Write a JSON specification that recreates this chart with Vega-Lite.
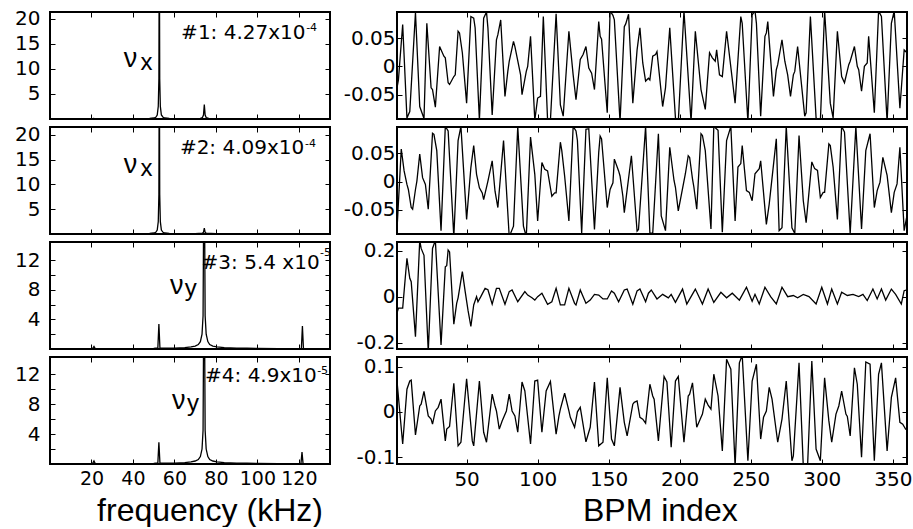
{
"$schema":"https://vega.github.io/schema/vega-lite/v6.json",
"padding":{"left":13,"top":7,"right":0,"bottom":0},
"columns":2,
"spacing":{"row":8,"column":67},
"bounds":"flush",
"config":{"view":{"stroke":"black","strokeWidth":2},"axis":{"domain":false,"grid":false,"tickSize":5,"tickColor":"black","tickWidth":1,"labelFont":"DejaVu Sans","labelFontSize":20,"labelColor":"black","labelOverlap":false,"labelFlush":false,"labelBound":false,"labelPadding":5,"titleFont":"Liberation Sans","titleFontSize":32,"titleFontWeight":"normal","titleColor":"black"}},
"datasets":{
"f1":[{"f":0,"a":0.03},{"f":10,"a":0.03},{"f":20,"a":0.04},{"f":21,"a":0.1},{"f":22,"a":0.04},{"f":30,"a":0.04},{"f":40,"a":0.06},{"f":45,"a":0.08},{"f":48,"a":0.12},{"f":50,"a":0.2},{"f":51,"a":0.35},{"f":51.7,"a":0.8},{"f":52.2,"a":2.5},{"f":52.5,"a":8},{"f":52.7,"a":40},{"f":52.9,"a":8},{"f":53.2,"a":2.5},{"f":53.7,"a":0.8},{"f":54.5,"a":0.35},{"f":55.5,"a":0.2},{"f":57.5,"a":0.12},{"f":60,"a":0.08},{"f":65,"a":0.06},{"f":70,"a":0.08},{"f":72.5,"a":0.12},{"f":73.5,"a":0.3},{"f":74,"a":0.8},{"f":74.4,"a":2.9},{"f":74.8,"a":0.8},{"f":75.3,"a":0.3},{"f":76.5,"a":0.12},{"f":80,"a":0.06},{"f":90,"a":0.04},{"f":100,"a":0.03},{"f":120,"a":0.03},{"f":135,"a":0.02}],
"f2":[{"f":0,"a":0.03},{"f":10,"a":0.03},{"f":20,"a":0.04},{"f":30,"a":0.04},{"f":40,"a":0.06},{"f":45,"a":0.08},{"f":48,"a":0.12},{"f":50,"a":0.2},{"f":51,"a":0.35},{"f":51.7,"a":0.8},{"f":52.2,"a":2.5},{"f":52.5,"a":8},{"f":52.7,"a":40},{"f":52.9,"a":8},{"f":53.2,"a":2.5},{"f":53.7,"a":0.8},{"f":54.5,"a":0.35},{"f":55.5,"a":0.2},{"f":57.5,"a":0.12},{"f":60,"a":0.08},{"f":65,"a":0.06},{"f":70,"a":0.06},{"f":73.5,"a":0.15},{"f":74,"a":0.35},{"f":74.4,"a":1.2},{"f":74.8,"a":0.35},{"f":75.3,"a":0.15},{"f":80,"a":0.05},{"f":90,"a":0.04},{"f":100,"a":0.03},{"f":120,"a":0.03},{"f":135,"a":0.02}],
"f3":[{"f":0,"a":0.02},{"f":15,"a":0.03},{"f":20.5,"a":0.05},{"f":21.2,"a":0.35},{"f":21.8,"a":0.05},{"f":30,"a":0.05},{"f":40,"a":0.06},{"f":50,"a":0.08},{"f":52,"a":0.15},{"f":52.5,"a":3.4},{"f":53,"a":0.15},{"f":55,"a":0.1},{"f":60,"a":0.12},{"f":65,"a":0.18},{"f":68,"a":0.28},{"f":70,"a":0.4},{"f":71.5,"a":0.6},{"f":72.5,"a":1.0},{"f":73.3,"a":2.0},{"f":73.8,"a":4.5},{"f":74.3,"a":30},{"f":74.8,"a":4.5},{"f":75.3,"a":2.0},{"f":76.1,"a":1.0},{"f":77,"a":0.6},{"f":78.5,"a":0.4},{"f":80.5,"a":0.28},{"f":84,"a":0.18},{"f":90,"a":0.12},{"f":95,"a":0.1},{"f":100,"a":0.08},{"f":110,"a":0.06},{"f":121.2,"a":0.08},{"f":121.7,"a":3.1},{"f":122.2,"a":0.08},{"f":125,"a":0.05},{"f":135,"a":0.04}],
"f4":[{"f":0,"a":0.02},{"f":15,"a":0.03},{"f":20.5,"a":0.05},{"f":21.2,"a":0.4},{"f":21.8,"a":0.05},{"f":30,"a":0.05},{"f":40,"a":0.06},{"f":50,"a":0.08},{"f":52,"a":0.15},{"f":52.5,"a":2.9},{"f":53,"a":0.15},{"f":55,"a":0.1},{"f":60,"a":0.12},{"f":65,"a":0.18},{"f":68,"a":0.28},{"f":70,"a":0.4},{"f":71.5,"a":0.6},{"f":72.5,"a":1.0},{"f":73.3,"a":2.0},{"f":73.8,"a":4.5},{"f":74.3,"a":30},{"f":74.8,"a":4.5},{"f":75.3,"a":2.0},{"f":76.1,"a":1.0},{"f":77,"a":0.6},{"f":78.5,"a":0.4},{"f":80.5,"a":0.28},{"f":84,"a":0.18},{"f":90,"a":0.12},{"f":95,"a":0.1},{"f":100,"a":0.08},{"f":110,"a":0.06},{"f":121,"a":0.08},{"f":121.5,"a":1.6},{"f":122,"a":0.08},{"f":125,"a":0.05},{"f":135,"a":0.04}],
"t1":[{"i":1,"v":-0.038},{"i":2,"v":-0.024},{"i":5,"v":0.074},{"i":8,"v":-0.091},{"i":10,"v":-0.08},{"i":14,"v":0.095},{"i":17,"v":-0.071},{"i":20,"v":-0.092},{"i":22,"v":0.076},{"i":25,"v":-0.038},{"i":26,"v":-0.041},{"i":28,"v":-0.072},{"i":31,"v":0.035},{"i":34,"v":0.018},{"i":35,"v":0.015},{"i":37,"v":-0.029},{"i":38,"v":-0.032},{"i":41,"v":-0.018},{"i":42,"v":-0.015},{"i":44,"v":0.062},{"i":45,"v":0.059},{"i":47,"v":0.024},{"i":50,"v":-0.065},{"i":53,"v":0.088},{"i":55,"v":0.085},{"i":56,"v":0.068},{"i":59,"v":-0.095},{"i":62,"v":0.085},{"i":64,"v":0.096},{"i":65,"v":0.068},{"i":68,"v":-0.086},{"i":71,"v":0.047},{"i":72,"v":0.056},{"i":74,"v":0.082},{"i":77,"v":-0.053},{"i":79,"v":-0.009},{"i":80,"v":0.009},{"i":83,"v":0.044},{"i":84,"v":0.035},{"i":88,"v":-0.015},{"i":89,"v":-0.05},{"i":92,"v":-0.009},{"i":93,"v":0},{"i":95,"v":0.053},{"i":98,"v":-0.095},{"i":100,"v":-0.056},{"i":102,"v":-0.053},{"i":104,"v":0.088},{"i":107,"v":-0.095},{"i":109,"v":-0.095},{"i":113,"v":0.093},{"i":116,"v":-0.068},{"i":118,"v":-0.088},{"i":122,"v":0.062},{"i":125,"v":-0.015},{"i":127,"v":-0.059},{"i":130,"v":0.012},{"i":132,"v":0.021},{"i":134,"v":0.035},{"i":136,"v":-0.003},{"i":138,"v":-0.012},{"i":140,"v":-0.041},{"i":143,"v":0.079},{"i":144,"v":0.053},{"i":145,"v":0.048},{"i":149,"v":-0.082},{"i":151,"v":0.098},{"i":153,"v":0.09},{"i":154,"v":0.082},{"i":158,"v":-0.098},{"i":161,"v":0.07},{"i":162,"v":0.075},{"i":164,"v":0.092},{"i":167,"v":-0.065},{"i":170,"v":0.029},{"i":172,"v":0.068},{"i":174,"v":0.006},{"i":176,"v":-0.026},{"i":178,"v":-0.021},{"i":179,"v":-0.024},{"i":181,"v":0.018},{"i":183,"v":0.021},{"i":184,"v":0.026},{"i":188,"v":-0.071},{"i":190,"v":-0.038},{"i":193,"v":0.068},{"i":197,"v":-0.091},{"i":199,"v":-0.098},{"i":203,"v":0.098},{"i":208,"v":-0.098},{"i":211,"v":0.062},{"i":215,"v":-0.041},{"i":218,"v":-0.076},{"i":221,"v":0.024},{"i":223,"v":0.015},{"i":225,"v":0.009},{"i":226,"v":0.029},{"i":228,"v":-0.015},{"i":230,"v":-0.018},{"i":233,"v":0.062},{"i":239,"v":-0.065},{"i":243,"v":0.088},{"i":244,"v":0.076},{"i":248,"v":-0.098},{"i":251,"v":0.091},{"i":253,"v":0.098},{"i":254,"v":0.076},{"i":257,"v":-0.088},{"i":260,"v":0.053},{"i":261,"v":0.059},{"i":262,"v":0.079},{"i":266,"v":-0.053},{"i":268,"v":-0.006},{"i":269,"v":0.003},{"i":272,"v":0.047},{"i":274,"v":0.009},{"i":276,"v":-0.015},{"i":278,"v":-0.053},{"i":280,"v":-0.015},{"i":281,"v":-0.009},{"i":283,"v":0.035},{"i":288,"v":-0.088},{"i":289,"v":-0.082},{"i":292,"v":0.088},{"i":296,"v":-0.091},{"i":299,"v":-0.098},{"i":302,"v":0.098},{"i":306,"v":-0.065},{"i":308,"v":-0.091},{"i":311,"v":0.062},{"i":314,"v":-0.018},{"i":316,"v":-0.029},{"i":319,"v":0.003},{"i":320,"v":0.009},{"i":323,"v":0.035},{"i":325,"v":0},{"i":326,"v":-0.006},{"i":328,"v":-0.044},{"i":330,"v":0},{"i":332,"v":0.006},{"i":333,"v":0.053},{"i":337,"v":-0.082},{"i":340,"v":0.098},{"i":342,"v":0.088},{"i":346,"v":-0.098},{"i":349,"v":0.076},{"i":351,"v":0.098},{"i":355,"v":-0.074},{"i":358,"v":0.029},{"i":360,"v":0.024}],
"t2":[{"i":1,"v":-0.085},{"i":4,"v":0.058},{"i":6,"v":0.019},{"i":8,"v":-0.005},{"i":9,"v":-0.014},{"i":11,"v":-0.046},{"i":12,"v":-0.049},{"i":14,"v":-0.014},{"i":15,"v":0.001},{"i":17,"v":0.049},{"i":19,"v":0.007},{"i":21,"v":-0.005},{"i":23,"v":-0.049},{"i":26,"v":0.086},{"i":27,"v":0.084},{"i":29,"v":0.055},{"i":32,"v":-0.087},{"i":35,"v":0.098},{"i":37,"v":0.09},{"i":41,"v":-0.098},{"i":44,"v":0.073},{"i":46,"v":0.098},{"i":50,"v":-0.067},{"i":53,"v":0.025},{"i":55,"v":0.064},{"i":57,"v":0.013},{"i":59,"v":-0.011},{"i":61,"v":-0.02},{"i":62,"v":-0.032},{"i":65,"v":0.001},{"i":68,"v":0.037},{"i":70,"v":-0.017},{"i":72,"v":-0.046},{"i":76,"v":0.073},{"i":80,"v":-0.098},{"i":83,"v":-0.079},{"i":86,"v":0.098},{"i":90,"v":-0.079},{"i":92,"v":-0.098},{"i":95,"v":0.079},{"i":98,"v":0.013},{"i":100,"v":-0.07},{"i":103,"v":0.034},{"i":105,"v":0.022},{"i":107,"v":0.019},{"i":110,"v":-0.026},{"i":112,"v":-0.02},{"i":113,"v":-0.02},{"i":116,"v":0.07},{"i":117,"v":0.055},{"i":119,"v":0.01},{"i":122,"v":-0.07},{"i":125,"v":0.098},{"i":127,"v":0.09},{"i":128,"v":0.073},{"i":131,"v":-0.091},{"i":134,"v":0.093},{"i":136,"v":0.094},{"i":140,"v":-0.085},{"i":143,"v":0.052},{"i":144,"v":0.081},{"i":145,"v":0.076},{"i":149,"v":-0.046},{"i":151,"v":-0.014},{"i":153,"v":-0.002},{"i":154,"v":0.04},{"i":157,"v":0.019},{"i":158,"v":0.01},{"i":160,"v":-0.026},{"i":161,"v":-0.055},{"i":166,"v":0.046},{"i":170,"v":-0.088},{"i":171,"v":-0.085},{"i":176,"v":0.098},{"i":179,"v":-0.091},{"i":181,"v":-0.092},{"i":185,"v":0.085},{"i":187,"v":-0.061},{"i":190,"v":-0.087},{"i":193,"v":0.061},{"i":196,"v":0.002},{"i":197,"v":-0.01},{"i":199,"v":-0.052},{"i":204,"v":0.014},{"i":206,"v":0.046},{"i":207,"v":0.043},{"i":209,"v":0.005},{"i":210,"v":-0.01},{"i":212,"v":-0.049},{"i":215,"v":0.085},{"i":216,"v":0.082},{"i":218,"v":0.055},{"i":222,"v":-0.084},{"i":224,"v":0.098},{"i":227,"v":0.091},{"i":230,"v":-0.09},{"i":233,"v":0.073},{"i":236,"v":0.098},{"i":239,"v":-0.07},{"i":241,"v":0.026},{"i":243,"v":0.032},{"i":244,"v":0.064},{"i":247,"v":-0.016},{"i":249,"v":-0.019},{"i":251,"v":-0.034},{"i":253,"v":0.014},{"i":256,"v":0.023},{"i":257,"v":0.037},{"i":261,"v":-0.076},{"i":263,"v":-0.04},{"i":268,"v":0.076},{"i":270,"v":-0.087},{"i":272,"v":-0.082},{"i":275,"v":0.098},{"i":279,"v":-0.082},{"i":281,"v":-0.092},{"i":284,"v":0.082},{"i":287,"v":-0.034},{"i":289,"v":-0.073},{"i":293,"v":0.035},{"i":295,"v":0.023},{"i":297,"v":0.02},{"i":299,"v":-0.028},{"i":301,"v":-0.019},{"i":302,"v":-0.019},{"i":305,"v":0.067},{"i":306,"v":0.064},{"i":308,"v":0.026},{"i":311,"v":-0.067},{"i":314,"v":0.098},{"i":316,"v":0.088},{"i":320,"v":-0.092},{"i":324,"v":0.098},{"i":328,"v":-0.084},{"i":331,"v":0.055},{"i":334,"v":0.085},{"i":337,"v":-0.046},{"i":339,"v":-0.016},{"i":341,"v":-0.001},{"i":343,"v":0.043},{"i":346,"v":0.011},{"i":349,"v":-0.055},{"i":351,"v":-0.019},{"i":353,"v":-0.004},{"i":355,"v":0.061},{"i":358,"v":-0.087},{"i":360,"v":-0.06}],
"t3":[{"i":1,"v":-0.072},{"i":2,"v":-0.05},{"i":5,"v":-0.05},{"i":8,"v":0.167},{"i":10,"v":0.08},{"i":11,"v":0.065},{"i":14,"v":-0.174},{"i":17,"v":0.245},{"i":18,"v":0.21},{"i":20,"v":0.18},{"i":23,"v":-0.24},{"i":26,"v":0.21},{"i":28,"v":0.245},{"i":32,"v":-0.21},{"i":35,"v":0.13},{"i":36,"v":0.135},{"i":37,"v":0.203},{"i":38,"v":0.195},{"i":41,"v":-0.12},{"i":43,"v":-0.029},{"i":44,"v":-0.005},{"i":47,"v":0.109},{"i":49,"v":0.022},{"i":51,"v":-0.06},{"i":53,"v":-0.13},{"i":55,"v":-0.036},{"i":57,"v":0},{"i":58,"v":-0.022},{"i":60,"v":0.0},{"i":63,"v":0.036},{"i":65,"v":0.03},{"i":68,"v":-0.033},{"i":71,"v":0.036},{"i":73,"v":0.036},{"i":77,"v":-0.033},{"i":80,"v":0.022},{"i":82,"v":0.029},{"i":86,"v":-0.022},{"i":91,"v":0.022},{"i":93,"v":0.007},{"i":96,"v":-0.005},{"i":98,"v":-0.015},{"i":100,"v":0},{"i":103,"v":0.015},{"i":107,"v":-0.033},{"i":110,"v":-0.022},{"i":113,"v":0.036},{"i":116,"v":-0.036},{"i":119,"v":-0.036},{"i":122,"v":0.036},{"i":126,"v":-0.029},{"i":127,"v":-0.036},{"i":130,"v":0.029},{"i":134,"v":-0.029},{"i":137,"v":-0.015},{"i":140,"v":0.01},{"i":143,"v":0.007},{"i":146,"v":-0.01},{"i":149,"v":-0.01},{"i":152,"v":0.025},{"i":154,"v":0.015},{"i":157,"v":-0.022},{"i":161,"v":0.029},{"i":163,"v":0.033},{"i":167,"v":-0.033},{"i":170,"v":0.025},{"i":172,"v":0.033},{"i":176,"v":-0.022},{"i":178,"v":0.015},{"i":180,"v":0.029},{"i":184,"v":-0.01},{"i":188,"v":0.01},{"i":192,"v":-0.005},{"i":194,"v":0.01},{"i":197,"v":-0.025},{"i":202,"v":0.033},{"i":205,"v":-0.032},{"i":208,"v":0.0},{"i":211,"v":0.033},{"i":216,"v":-0.032},{"i":220,"v":0.033},{"i":224,"v":-0.025},{"i":229,"v":0.019},{"i":233,"v":-0.005},{"i":237,"v":0.015},{"i":242,"v":-0.015},{"i":247,"v":0.041},{"i":251,"v":-0.02},{"i":253,"v":0.01},{"i":256,"v":-0.032},{"i":260,"v":0.041},{"i":264,"v":0.0},{"i":268,"v":-0.032},{"i":272,"v":0.041},{"i":276,"v":0.0},{"i":280,"v":0.005},{"i":283,"v":-0.005},{"i":287,"v":0.01},{"i":291,"v":0.0},{"i":296,"v":-0.032},{"i":300,"v":0.041},{"i":304,"v":-0.032},{"i":307,"v":0.033},{"i":311,"v":-0.032},{"i":314,"v":0.019},{"i":318,"v":0.005},{"i":322,"v":0.01},{"i":326,"v":0.0},{"i":329,"v":0.01},{"i":332,"v":-0.017},{"i":336,"v":0.033},{"i":339,"v":-0.01},{"i":342,"v":0.033},{"i":345,"v":-0.015},{"i":349,"v":0.033},{"i":352,"v":0.01},{"i":356,"v":-0.032},{"i":358,"v":0.026},{"i":360,"v":0.03}],
"t4":[{"i":1,"v":0.068},{"i":5,"v":-0.071},{"i":8,"v":0.05},{"i":10,"v":0.068},{"i":11,"v":0.07},{"i":14,"v":-0.051},{"i":17,"v":0.013},{"i":18,"v":0.017},{"i":20,"v":0.045},{"i":23,"v":-0.009},{"i":25,"v":-0.016},{"i":26,"v":-0.027},{"i":28,"v":0.002},{"i":30,"v":0.01},{"i":32,"v":0.028},{"i":35,"v":-0.064},{"i":36,"v":-0.038},{"i":38,"v":-0.032},{"i":41,"v":0.063},{"i":44,"v":-0.075},{"i":46,"v":-0.067},{"i":50,"v":0.073},{"i":54,"v":-0.064},{"i":55,"v":-0.075},{"i":59,"v":0.068},{"i":62,"v":-0.045},{"i":64,"v":-0.067},{"i":68,"v":0.039},{"i":70,"v":0.013},{"i":71,"v":0.002},{"i":73,"v":-0.038},{"i":75,"v":-0.02},{"i":78,"v":0.002},{"i":80,"v":0.039},{"i":82,"v":0.002},{"i":84,"v":-0.009},{"i":86,"v":-0.045},{"i":89,"v":0.066},{"i":91,"v":0.046},{"i":95,"v":-0.071},{"i":98,"v":0.068},{"i":100,"v":0.07},{"i":103,"v":-0.045},{"i":106,"v":0.046},{"i":109,"v":0.067},{"i":113,"v":-0.049},{"i":115,"v":-0.009},{"i":116,"v":0.006},{"i":119,"v":0.041},{"i":122,"v":0.002},{"i":123,"v":-0.012},{"i":126,"v":-0.034},{"i":128,"v":0},{"i":130,"v":0.01},{"i":134,"v":-0.066},{"i":137,"v":-0.034},{"i":140,"v":0.066},{"i":143,"v":-0.075},{"i":146,"v":-0.067},{"i":149,"v":0.075},{"i":152,"v":-0.06},{"i":154,"v":-0.075},{"i":158,"v":0.054},{"i":161,"v":-0.023},{"i":163,"v":-0.053},{"i":167,"v":0.017},{"i":168,"v":0.021},{"i":170,"v":0.024},{"i":172,"v":-0.012},{"i":174,"v":-0.016},{"i":176,"v":-0.025},{"i":179,"v":0.061},{"i":181,"v":0.035},{"i":182,"v":0.028},{"i":185,"v":-0.064},{"i":189,"v":0.078},{"i":191,"v":0.066},{"i":194,"v":-0.078},{"i":197,"v":0.068},{"i":199,"v":0.078},{"i":203,"v":-0.067},{"i":206,"v":0.035},{"i":207,"v":0.039},{"i":209,"v":0.064},{"i":212,"v":-0.034},{"i":215,"v":-0.012},{"i":216,"v":-0.005},{"i":218,"v":0.028},{"i":220,"v":0.015},{"i":222,"v":0.006},{"i":224,"v":0.083},{"i":227,"v":0.035},{"i":230,"v":-0.086},{"i":233,"v":0.116},{"i":236,"v":0.094},{"i":239,"v":-0.12},{"i":242,"v":0.108},{"i":244,"v":0.125},{"i":248,"v":-0.108},{"i":251,"v":0.068},{"i":254,"v":0.105},{"i":257,"v":-0.06},{"i":259,"v":-0.012},{"i":261,"v":0.002},{"i":263,"v":0.054},{"i":265,"v":0.028},{"i":269,"v":-0.067},{"i":272,"v":-0.016},{"i":275,"v":0.068},{"i":279,"v":-0.108},{"i":280,"v":-0.097},{"i":284,"v":0.108},{"i":287,"v":-0.12},{"i":290,"v":-0.12},{"i":293,"v":0.112},{"i":296,"v":-0.082},{"i":299,"v":-0.108},{"i":302,"v":0.075},{"i":305,"v":-0.02},{"i":307,"v":-0.067},{"i":310,"v":-0.005},{"i":312,"v":0.013},{"i":314,"v":0.046},{"i":317,"v":-0.005},{"i":318,"v":-0.01},{"i":320,"v":-0.053},{"i":323,"v":0.097},{"i":325,"v":0.061},{"i":328,"v":-0.1},{"i":331,"v":0.11},{"i":334,"v":0.105},{"i":337,"v":-0.108},{"i":340,"v":0.083},{"i":342,"v":0.108},{"i":346,"v":-0.086},{"i":349,"v":0.032},{"i":352,"v":0.075},{"i":355,"v":-0.023},{"i":357,"v":-0.027},{"i":359,"v":-0.038},{"i":360,"v":-0.04}]
},
"concat":[
{"width":280,"height":107,"layer":[
 {"data":{"name":"f1"},"mark":{"type":"line","color":"black","strokeWidth":1.3,"clip":true},"encoding":{
  "x":{"field":"f","type":"quantitative","scale":{"domain":[0,135],"nice":false,"zero":false},"axis":{"orient":"bottom","offset":-5,"values":[20,40,60,80,100,120],"labels":false,"title":null}},
  "y":{"field":"a","type":"quantitative","scale":{"domain":[0,21.3],"nice":false,"zero":false},"axis":{"orient":"left","offset":-5,"values":[5,10,15,20],"labelPadding":10,"title":null}}}},
 {"data":{"name":"f1"},"mark":{"type":"line","opacity":0,"clip":true},"encoding":{
  "x":{"field":"f","type":"quantitative","scale":{"domain":[0,135],"nice":false,"zero":false},"axis":{"orient":"top","offset":-5,"values":[20,40,60,80,100,120],"labels":false,"title":null}},
  "y":{"field":"a","type":"quantitative","scale":{"domain":[0,21.3],"nice":false,"zero":false},"axis":{"orient":"right","offset":-5,"values":[5,10,15,20],"labels":false,"title":null}}}},
 {"data":{"values":[{}]},"mark":{"type":"text","text":"ν","font":"Liberation Sans","fontSize":27,"align":"left","baseline":"alphabetic","color":"black"},"encoding":{
  "x":{"datum":35.5,"type":"quantitative","scale":{"domain":[0,135],"nice":false,"zero":false},"axis":null},
  "y":{"datum":10.4,"type":"quantitative","scale":{"domain":[0,21.3],"nice":false,"zero":false},"axis":null}}},
 {"data":{"values":[{}]},"mark":{"type":"text","text":"x","font":"Liberation Sans","fontSize":24,"align":"left","baseline":"alphabetic","color":"black"},"encoding":{
  "x":{"datum":43.6,"type":"quantitative","scale":{"domain":[0,135],"nice":false,"zero":false},"axis":null},
  "y":{"datum":9.7,"type":"quantitative","scale":{"domain":[0,21.3],"nice":false,"zero":false},"axis":null}}},
 {"data":{"values":[{}]},"mark":{"type":"text","text":"#1: 4.27x10","font":"DejaVu Sans","fontSize":20,"align":"right","baseline":"alphabetic","color":"black"},"encoding":{
  "x":{"datum":123.2,"type":"quantitative","scale":{"domain":[0,135],"nice":false,"zero":false},"axis":null},
  "y":{"datum":15.85,"type":"quantitative","scale":{"domain":[0,21.3],"nice":false,"zero":false},"axis":null}}},
 {"data":{"values":[{}]},"mark":{"type":"text","text":"-4","font":"DejaVu Sans","fontSize":11,"align":"left","baseline":"alphabetic","color":"black"},"encoding":{
  "x":{"datum":123.5,"type":"quantitative","scale":{"domain":[0,135],"nice":false,"zero":false},"axis":null},
  "y":{"datum":17.6,"type":"quantitative","scale":{"domain":[0,21.3],"nice":false,"zero":false},"axis":null}}}
],"resolve":{"axis":{"x":"independent","y":"independent"}}},
{"width":510,"height":107,"layer":[
 {"data":{"name":"t1"},"mark":{"type":"line","color":"black","strokeWidth":1.3,"clip":true},"encoding":{
  "x":{"field":"i","type":"quantitative","scale":{"domain":[1,360],"nice":false,"zero":false},"axis":{"orient":"bottom","offset":-5,"values":[50,100,150,200,250,300,350],"labels":false,"title":null}},
  "y":{"field":"v","type":"quantitative","scale":{"domain":[-0.093,0.096],"nice":false,"zero":false},"axis":{"orient":"left","offset":-5,"values":[-0.05,0,0.05],"labelPadding":2,"labelExpr":"datum.value == 0 ? '0' : (datum.value < 0 ? '-' : '') + format(abs(datum.value), '.2~f')","title":null}}}},
 {"data":{"name":"t1"},"mark":{"type":"line","opacity":0,"clip":true},"encoding":{
  "x":{"field":"i","type":"quantitative","scale":{"domain":[1,360],"nice":false,"zero":false},"axis":{"orient":"top","offset":-5,"values":[50,100,150,200,250,300,350],"labels":false,"title":null}},
  "y":{"field":"v","type":"quantitative","scale":{"domain":[-0.093,0.096],"nice":false,"zero":false},"axis":{"orient":"right","offset":-5,"values":[-0.05,0,0.05],"labels":false,"title":null}}}}
],"resolve":{"axis":{"x":"independent","y":"independent"}}},
{"width":280,"height":107,"layer":[
 {"data":{"name":"f2"},"mark":{"type":"line","color":"black","strokeWidth":1.3,"clip":true},"encoding":{
  "x":{"field":"f","type":"quantitative","scale":{"domain":[0,135],"nice":false,"zero":false},"axis":{"orient":"bottom","offset":-5,"values":[20,40,60,80,100,120],"labels":false,"title":null}},
  "y":{"field":"a","type":"quantitative","scale":{"domain":[0,21.6],"nice":false,"zero":false},"axis":{"orient":"left","offset":-5,"values":[5,10,15,20],"labelPadding":10,"title":null}}}},
 {"data":{"name":"f2"},"mark":{"type":"line","opacity":0,"clip":true},"encoding":{
  "x":{"field":"f","type":"quantitative","scale":{"domain":[0,135],"nice":false,"zero":false},"axis":{"orient":"top","offset":-5,"values":[20,40,60,80,100,120],"labels":false,"title":null}},
  "y":{"field":"a","type":"quantitative","scale":{"domain":[0,21.6],"nice":false,"zero":false},"axis":{"orient":"right","offset":-5,"values":[5,10,15,20],"labels":false,"title":null}}}},
 {"data":{"values":[{}]},"mark":{"type":"text","text":"ν","font":"Liberation Sans","fontSize":27,"align":"left","baseline":"alphabetic","color":"black"},"encoding":{
  "x":{"datum":35.5,"type":"quantitative","scale":{"domain":[0,135],"nice":false,"zero":false},"axis":null},
  "y":{"datum":12.4,"type":"quantitative","scale":{"domain":[0,21.6],"nice":false,"zero":false},"axis":null}}},
 {"data":{"values":[{}]},"mark":{"type":"text","text":"x","font":"Liberation Sans","fontSize":24,"align":"left","baseline":"alphabetic","color":"black"},"encoding":{
  "x":{"datum":43.6,"type":"quantitative","scale":{"domain":[0,135],"nice":false,"zero":false},"axis":null},
  "y":{"datum":11.8,"type":"quantitative","scale":{"domain":[0,21.6],"nice":false,"zero":false},"axis":null}}},
 {"data":{"values":[{}]},"mark":{"type":"text","text":"#2: 4.09x10","font":"DejaVu Sans","fontSize":20,"align":"right","baseline":"alphabetic","color":"black"},"encoding":{
  "x":{"datum":122.6,"type":"quantitative","scale":{"domain":[0,135],"nice":false,"zero":false},"axis":null},
  "y":{"datum":16.1,"type":"quantitative","scale":{"domain":[0,21.6],"nice":false,"zero":false},"axis":null}}},
 {"data":{"values":[{}]},"mark":{"type":"text","text":"-4","font":"DejaVu Sans","fontSize":11,"align":"left","baseline":"alphabetic","color":"black"},"encoding":{
  "x":{"datum":123.0,"type":"quantitative","scale":{"domain":[0,135],"nice":false,"zero":false},"axis":null},
  "y":{"datum":17.6,"type":"quantitative","scale":{"domain":[0,21.6],"nice":false,"zero":false},"axis":null}}}
],"resolve":{"axis":{"x":"independent","y":"independent"}}},
{"width":510,"height":107,"layer":[
 {"data":{"name":"t2"},"mark":{"type":"line","color":"black","strokeWidth":1.3,"clip":true},"encoding":{
  "x":{"field":"i","type":"quantitative","scale":{"domain":[1,360],"nice":false,"zero":false},"axis":{"orient":"bottom","offset":-5,"values":[50,100,150,200,250,300,350],"labels":false,"title":null}},
  "y":{"field":"v","type":"quantitative","scale":{"domain":[-0.093,0.097],"nice":false,"zero":false},"axis":{"orient":"left","offset":-5,"values":[-0.05,0,0.05],"labelPadding":2,"labelExpr":"datum.value == 0 ? '0' : (datum.value < 0 ? '-' : '') + format(abs(datum.value), '.2~f')","title":null}}}},
 {"data":{"name":"t2"},"mark":{"type":"line","opacity":0,"clip":true},"encoding":{
  "x":{"field":"i","type":"quantitative","scale":{"domain":[1,360],"nice":false,"zero":false},"axis":{"orient":"top","offset":-5,"values":[50,100,150,200,250,300,350],"labels":false,"title":null}},
  "y":{"field":"v","type":"quantitative","scale":{"domain":[-0.093,0.097],"nice":false,"zero":false},"axis":{"orient":"right","offset":-5,"values":[-0.05,0,0.05],"labels":false,"title":null}}}}
],"resolve":{"axis":{"x":"independent","y":"independent"}}},
{"width":280,"height":107,"layer":[
 {"data":{"name":"f3"},"mark":{"type":"line","color":"black","strokeWidth":1.3,"clip":true},"encoding":{
  "x":{"field":"f","type":"quantitative","scale":{"domain":[0,135],"nice":false,"zero":false},"axis":{"orient":"bottom","offset":-5,"values":[20,40,60,80,100,120],"labels":false,"title":null}},
  "y":{"field":"a","type":"quantitative","scale":{"domain":[0,14.5],"nice":false,"zero":false},"axis":{"orient":"left","offset":-5,"values":[2,4,6,8,10,12],"labelExpr":"datum.value % 4 == 0 ? datum.label : ''","labelPadding":10,"title":null}}}},
 {"data":{"name":"f3"},"mark":{"type":"line","opacity":0,"clip":true},"encoding":{
  "x":{"field":"f","type":"quantitative","scale":{"domain":[0,135],"nice":false,"zero":false},"axis":{"orient":"top","offset":-5,"values":[20,40,60,80,100,120],"labels":false,"title":null}},
  "y":{"field":"a","type":"quantitative","scale":{"domain":[0,14.5],"nice":false,"zero":false},"axis":{"orient":"right","offset":-5,"values":[2,4,6,8,10,12],"labels":false,"title":null}}}},
 {"data":{"values":[{}]},"mark":{"type":"text","text":"ν","font":"Liberation Sans","fontSize":27,"align":"left","baseline":"alphabetic","color":"black"},"encoding":{
  "x":{"datum":57.8,"type":"quantitative","scale":{"domain":[0,135],"nice":false,"zero":false},"axis":null},
  "y":{"datum":7.39,"type":"quantitative","scale":{"domain":[0,14.5],"nice":false,"zero":false},"axis":null}}},
 {"data":{"values":[{}]},"mark":{"type":"text","text":"y","font":"Liberation Sans","fontSize":24,"align":"left","baseline":"alphabetic","color":"black"},"encoding":{
  "x":{"datum":65.0,"type":"quantitative","scale":{"domain":[0,135],"nice":false,"zero":false},"axis":null},
  "y":{"datum":7.16,"type":"quantitative","scale":{"domain":[0,14.5],"nice":false,"zero":false},"axis":null}}},
 {"data":{"values":[{}]},"mark":{"type":"text","text":"#3: 5.4 x10","font":"DejaVu Sans","fontSize":20,"align":"right","baseline":"alphabetic","color":"black"},"encoding":{
  "x":{"datum":130.0,"type":"quantitative","scale":{"domain":[0,135],"nice":false,"zero":false},"axis":null},
  "y":{"datum":10.8,"type":"quantitative","scale":{"domain":[0,14.5],"nice":false,"zero":false},"axis":null}}},
 {"data":{"values":[{}]},"mark":{"type":"text","text":"-5","font":"DejaVu Sans","fontSize":11,"align":"left","baseline":"alphabetic","color":"black"},"encoding":{
  "x":{"datum":130.2,"type":"quantitative","scale":{"domain":[0,135],"nice":false,"zero":false},"axis":null},
  "y":{"datum":12.6,"type":"quantitative","scale":{"domain":[0,14.5],"nice":false,"zero":false},"axis":null}}}
],"resolve":{"axis":{"x":"independent","y":"independent"}}},
{"width":510,"height":107,"layer":[
 {"data":{"name":"t3"},"mark":{"type":"line","color":"black","strokeWidth":1.3,"clip":true},"encoding":{
  "x":{"field":"i","type":"quantitative","scale":{"domain":[1,360],"nice":false,"zero":false},"axis":{"orient":"bottom","offset":-5,"values":[50,100,150,200,250,300,350],"labels":false,"title":null}},
  "y":{"field":"v","type":"quantitative","scale":{"domain":[-0.228,0.238],"nice":false,"zero":false},"axis":{"orient":"left","offset":-5,"values":[-0.2,0,0.2],"labelPadding":2,"labelExpr":"datum.value == 0 ? '0' : (datum.value < 0 ? '-' : '') + format(abs(datum.value), '.2~f')","title":null}}}},
 {"data":{"name":"t3"},"mark":{"type":"line","opacity":0,"clip":true},"encoding":{
  "x":{"field":"i","type":"quantitative","scale":{"domain":[1,360],"nice":false,"zero":false},"axis":{"orient":"top","offset":-5,"values":[50,100,150,200,250,300,350],"labels":false,"title":null}},
  "y":{"field":"v","type":"quantitative","scale":{"domain":[-0.228,0.238],"nice":false,"zero":false},"axis":{"orient":"right","offset":-5,"values":[-0.2,0,0.2],"labels":false,"title":null}}}}
],"resolve":{"axis":{"x":"independent","y":"independent"}}},
{"width":280,"height":107,"layer":[
 {"data":{"name":"f4"},"mark":{"type":"line","color":"black","strokeWidth":1.3,"clip":true},"encoding":{
  "x":{"field":"f","type":"quantitative","scale":{"domain":[0,135],"nice":false,"zero":false},"axis":{"orient":"bottom","offset":-5,"values":[20,40,60,80,100,120],"labels":true,"labelFontSize":19,"title":"frequency (kHz)","titleX":159.5,"titleY":61,"titleBaseline":"alphabetic","titleAlign":"center","titleAnchor":null}},
  "y":{"field":"a","type":"quantitative","scale":{"domain":[0,14.3],"nice":false,"zero":false},"axis":{"orient":"left","offset":-5,"values":[2,4,6,8,10,12],"labelExpr":"datum.value % 4 == 0 ? datum.label : ''","labelPadding":10,"title":null}}}},
 {"data":{"name":"f4"},"mark":{"type":"line","opacity":0,"clip":true},"encoding":{
  "x":{"field":"f","type":"quantitative","scale":{"domain":[0,135],"nice":false,"zero":false},"axis":{"orient":"top","offset":-5,"values":[20,40,60,80,100,120],"labels":false,"title":null}},
  "y":{"field":"a","type":"quantitative","scale":{"domain":[0,14.3],"nice":false,"zero":false},"axis":{"orient":"right","offset":-5,"values":[2,4,6,8,10,12],"labels":false,"title":null}}}},
 {"data":{"values":[{}]},"mark":{"type":"text","text":"ν","font":"Liberation Sans","fontSize":27,"align":"left","baseline":"alphabetic","color":"black"},"encoding":{
  "x":{"datum":58.8,"type":"quantitative","scale":{"domain":[0,135],"nice":false,"zero":false},"axis":null},
  "y":{"datum":7.33,"type":"quantitative","scale":{"domain":[0,14.3],"nice":false,"zero":false},"axis":null}}},
 {"data":{"values":[{}]},"mark":{"type":"text","text":"y","font":"Liberation Sans","fontSize":24,"align":"left","baseline":"alphabetic","color":"black"},"encoding":{
  "x":{"datum":66.0,"type":"quantitative","scale":{"domain":[0,135],"nice":false,"zero":false},"axis":null},
  "y":{"datum":7.1,"type":"quantitative","scale":{"domain":[0,14.3],"nice":false,"zero":false},"axis":null}}},
 {"data":{"values":[{}]},"mark":{"type":"text","text":"#4: 4.9x10","font":"DejaVu Sans","fontSize":20,"align":"right","baseline":"alphabetic","color":"black"},"encoding":{
  "x":{"datum":128.6,"type":"quantitative","scale":{"domain":[0,135],"nice":false,"zero":false},"axis":null},
  "y":{"datum":10.9,"type":"quantitative","scale":{"domain":[0,14.3],"nice":false,"zero":false},"axis":null}}},
 {"data":{"values":[{}]},"mark":{"type":"text","text":"-5","font":"DejaVu Sans","fontSize":11,"align":"left","baseline":"alphabetic","color":"black"},"encoding":{
  "x":{"datum":128.8,"type":"quantitative","scale":{"domain":[0,135],"nice":false,"zero":false},"axis":null},
  "y":{"datum":12.0,"type":"quantitative","scale":{"domain":[0,14.3],"nice":false,"zero":false},"axis":null}}}
],"resolve":{"axis":{"x":"independent","y":"independent"}}},
{"width":510,"height":107,"layer":[
 {"data":{"name":"t4"},"mark":{"type":"line","color":"black","strokeWidth":1.3,"clip":true},"encoding":{
  "x":{"field":"i","type":"quantitative","scale":{"domain":[1,360],"nice":false,"zero":false},"axis":{"orient":"bottom","offset":-5,"values":[50,100,150,200,250,300,350],"labels":true,"title":"BPM index","titleX":262.8,"titleY":61,"titleBaseline":"alphabetic","titleAlign":"center","titleAnchor":null}},
  "y":{"field":"v","type":"quantitative","scale":{"domain":[-0.115,0.121],"nice":false,"zero":false},"axis":{"orient":"left","offset":-5,"values":[-0.1,0,0.1],"labelPadding":2,"labelExpr":"datum.value == 0 ? '0' : (datum.value < 0 ? '-' : '') + format(abs(datum.value), '.2~f')","title":null}}}},
 {"data":{"name":"t4"},"mark":{"type":"line","opacity":0,"clip":true},"encoding":{
  "x":{"field":"i","type":"quantitative","scale":{"domain":[1,360],"nice":false,"zero":false},"axis":{"orient":"top","offset":-5,"values":[50,100,150,200,250,300,350],"labels":false,"title":null}},
  "y":{"field":"v","type":"quantitative","scale":{"domain":[-0.115,0.121],"nice":false,"zero":false},"axis":{"orient":"right","offset":-5,"values":[-0.1,0,0.1],"labels":false,"title":null}}}}
],"resolve":{"axis":{"x":"independent","y":"independent"}}}
]
}
